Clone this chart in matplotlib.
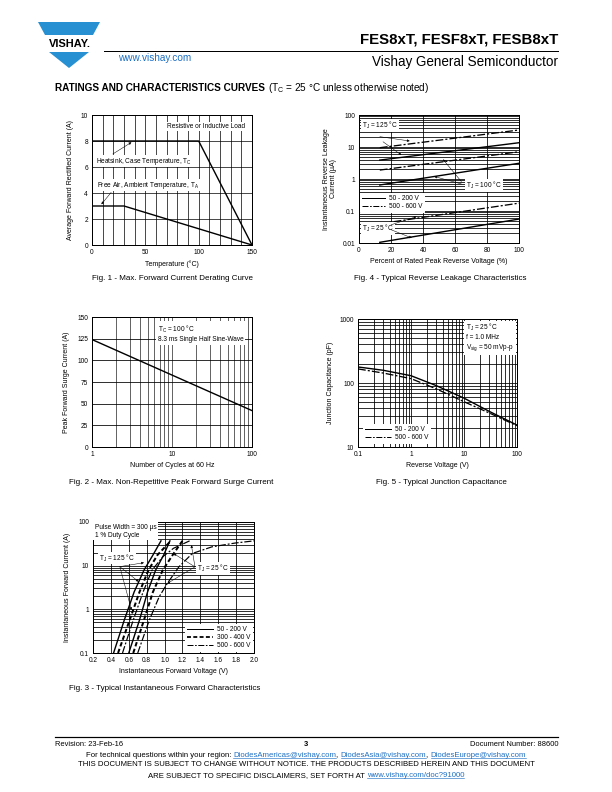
import matplotlib
matplotlib.use("Agg")
import matplotlib.pyplot as plt
from matplotlib.patches import Polygon
from matplotlib.lines import Line2D
from matplotlib.ticker import MultipleLocator, LogLocator, NullFormatter
from matplotlib.font_manager import FontProperties

plt.rcParams['font.family'] = ['Liberation Sans', 'DejaVu Sans']
plt.rcParams['mathtext.default'] = 'regular'

# ---- data ----
# Fig. 1 derating
temp_case = [0, 100, 150]
amps_case = [8, 8, 0]
temp_air = [0, 30, 150]
amps_air = [3, 3, 0]

# Fig. 2 surge current
cycles = [1, 100]
surge_amps = [124, 42]

# Fig. 3 forward characteristics (V, A)
vf_125_low = [0.43, 0.55, 0.66, 0.77, 0.87, 0.96]
if_125_low = [0.1, 0.57, 2.5, 7.9, 17.5, 37]
vf_125_mid = [0.48, 0.61, 0.72, 0.82, 0.92, 1.07]
if_125_mid = [0.1, 0.57, 2.5, 7.9, 17.5, 37]
vf_125_high = [0.53, 0.65, 0.76, 0.86, 0.98, 1.10, 1.28]
if_125_high = [0.1, 0.57, 2.5, 7.9, 16, 25, 37]
vf_25_low = [0.60, 0.72, 0.81, 0.90, 0.99, 1.06]
if_25_low = [0.1, 0.57, 2.5, 7.9, 17.5, 37]
vf_25_mid = [0.65, 0.77, 0.87, 0.98, 1.09, 1.20]
if_25_mid = [0.1, 0.57, 2.5, 7.9, 17.5, 37]
vf_25_high = [0.70, 0.83, 0.94, 1.03, 1.16, 1.31, 1.53, 1.79, 2.0]
if_25_high = [0.1, 0.57, 1.94, 3.9, 9.4, 19, 27, 33, 37]

# Fig. 4 reverse leakage (% of VRRM, uA)
pct = [13, 100]
ir_125_low = [3.9, 13.6]
ir_125_high = [9.5, 34]
ir_100_low = [0.65, 3.1]
ir_100_high = [1.9, 7.1]
ir_25_low = [0.0105, 0.056]
ir_25_high = [0.04, 0.176]

# Fig. 5 junction capacitance
vr = [0.1, 0.3, 1, 3, 10, 30, 100]
cj_low = [178, 158, 130, 91, 58, 36, 22]
cj_high = [166, 143, 117, 81, 51, 34, 21.5]

W, H = 612, 792
BLUE = '#2790d2'
LINK = '#1d6fc4'
DASHDOT = (0, (6, 1.6, 1.6, 1.6))
HEAVYDASH = (0, (2.2, 1.3))
TICK = 6.5
LAB = 7
ANN = 6.5
CAP = 8

fig = plt.figure(figsize=(W / 72, H / 72), dpi=72)


def fx(x):
    return x / W


def fy(y):
    return 1 - y / H


def axes_at(x0, x1, y0, y1):
    ax = fig.add_axes([fx(x0), fy(y1), (x1 - x0) / W, (y1 - y0) / H])
    ax.tick_params(which='both', length=0, labelsize=TICK, pad=4)
    for s in ax.spines.values():
        s.set_linewidth(1.0)
    ax.set_axisbelow(True)
    return ax


box_w = dict(facecolor='white', edgecolor='none', pad=0.8)
arrow = dict(arrowstyle='-|>', lw=0.5, color='black', mutation_scale=5, shrinkA=0, shrinkB=0)

# ---------------- Fig. 1 ----------------
ax1 = axes_at(92, 252, 115, 245)
ax1.plot(temp_case, amps_case, color='black', lw=1.4)
ax1.plot(temp_air, amps_air, color='black', lw=1.4)
ax1.set_xlim(0, 150)
ax1.set_ylim(0, 10)
ax1.set_xticks([0, 50, 100, 150])
ax1.xaxis.set_minor_locator(MultipleLocator(10))
ax1.set_yticks(range(0, 11, 2))
ax1.grid(True, which='both', axis='x', color='black', lw=0.7)
ax1.grid(True, which='major', axis='y', color='black', lw=0.7)
ax1.text(70, 9.1, 'Resistive or Inductive Load', fontsize=ANN, va='center', bbox=box_w)
ax1.text(3.5, 6.45, 'Heatsink, Case Temperature, T$_C$', fontsize=ANN, va='center', bbox=box_w)
ax1.text(4.5, 4.6, 'Free Air, Ambient Temperature, T$_A$', fontsize=ANN, va='center', bbox=box_w)
ax1.annotate('', xy=(37, 7.9), xytext=(19.5, 7.0), arrowprops=arrow)
ax1.annotate('', xy=(8.8, 3.13), xytext=(18, 4.05), arrowprops=arrow)
ax1.set_xlabel('Temperature (°C)', fontsize=LAB, labelpad=4)
ax1.set_ylabel('Average Forward Rectified Current (A)', fontsize=LAB, labelpad=7)

# ---------------- Fig. 4 ----------------
ax4 = axes_at(359, 519, 115, 243)
ax4.set_yscale('log')
ax4.plot(pct, ir_125_high, color='black', lw=1.3, ls=DASHDOT)
ax4.plot(pct, ir_125_low, color='black', lw=1.4)
ax4.plot(pct, ir_100_high, color='black', lw=1.3, ls=DASHDOT)
ax4.plot(pct, ir_100_low, color='black', lw=1.4)
ax4.plot(pct, ir_25_high, color='black', lw=1.3, ls=DASHDOT)
ax4.plot(pct, ir_25_low, color='black', lw=1.4)
ax4.set_xlim(0, 100)
ax4.set_ylim(0.01, 100)
ax4.set_xticks(range(0, 101, 20))
ax4.set_yticks([0.01, 0.1, 1, 10, 100])
ax4.set_yticklabels(['0.01', '0.1', '1', '10', '100'])
ax4.yaxis.set_minor_locator(LogLocator(base=10, subs=range(2, 10), numticks=20))
ax4.yaxis.set_minor_formatter(NullFormatter())
ax4.grid(True, which='major', axis='x', color='black', lw=0.8)
ax4.grid(True, which='both', axis='y', color='black', lw=0.8)
ax4.text(2, 48, 'T$_J$ = 125 °C', fontsize=ANN, va='center', bbox=box_w)
ax4.annotate('', xy=(31.7, 15.4), xytext=(13, 21), arrowprops=arrow)
ax4.annotate('', xy=(26.5, 5.6), xytext=(15, 14.6), arrowprops=arrow)
ax4.text(67, 0.61, 'T$_J$ = 100 °C', fontsize=ANN, va='center', bbox=box_w)
ax4.annotate('', xy=(52.5, 4.1), xytext=(64, 0.83), arrowprops=arrow)
ax4.annotate('', xy=(47, 1.2), xytext=(64, 0.7), arrowprops=arrow)
ax4.text(2, 0.029, 'T$_J$ = 25 °C', fontsize=ANN, va='center', bbox=box_w)
ax4.annotate('', xy=(36, 0.067), xytext=(20, 0.037), arrowprops=arrow)
ax4.annotate('', xy=(33, 0.0144), xytext=(20, 0.026), arrowprops=arrow)
h1 = Line2D([], [], color='black', lw=1.0)
h2 = Line2D([], [], color='black', lw=1.0, ls=DASHDOT)
ax4.legend([h1, h2], ['50 - 200 V', '500 - 600 V'], loc='upper left',
           bbox_to_anchor=(0.0, 0.4), fontsize=ANN, frameon=True, fancybox=False,
           framealpha=1, edgecolor='white', handlelength=3.5, handletextpad=0.6,
           borderpad=0.3, labelspacing=0.2, borderaxespad=0.2)
ax4.set_xlabel('Percent of Rated Peak Reverse Voltage (%)', fontsize=LAB, labelpad=4)
ax4.set_ylabel('Instantaneous Reverse Leakage\nCurrent (µA)', fontsize=LAB, labelpad=5,
               linespacing=1.1)

# ---------------- Fig. 2 ----------------
ax2 = axes_at(92, 252, 317, 447)
ax2.set_xscale('log')
ax2.plot(cycles, surge_amps, color='black', lw=1.4)
ax2.set_xlim(1, 100)
ax2.set_ylim(0, 150)
ax2.set_xticks([1, 10, 100])
ax2.set_xticklabels(['1', '10', '100'])
ax2.xaxis.set_minor_locator(LogLocator(base=10, subs=range(2, 10), numticks=20))
ax2.xaxis.set_minor_formatter(NullFormatter())
ax2.set_yticks(range(0, 151, 25))
ax2.grid(True, which='both', axis='x', color='black', lw=0.6)
ax2.grid(True, which='major', axis='y', color='black', lw=0.8)
ax2.text(0.41, 0.945, 'T$_C$ = 100 °C\n8.3 ms Single Half Sine-Wave', transform=ax2.transAxes,
         fontsize=ANN, va='top', linespacing=1.1,
         bbox=dict(facecolor='white', edgecolor='none', pad=2))
ax2.set_xlabel('Number of Cycles at 60 Hz', fontsize=LAB, labelpad=4)
ax2.set_ylabel('Peak Forward Surge Current (A)', fontsize=LAB, labelpad=7)

# ---------------- Fig. 5 ----------------
ax5 = axes_at(358, 517, 319, 447)
ax5.set_xscale('log')
ax5.set_yscale('log')
ax5.plot(vr, cj_low, color='black', lw=1.4)
ax5.plot(vr, cj_high, color='black', lw=1.3, ls=DASHDOT)
ax5.set_xlim(0.1, 100)
ax5.set_ylim(10, 1000)
ax5.set_xticks([0.1, 1, 10, 100])
ax5.set_xticklabels(['0.1', '1', '10', '100'])
ax5.set_yticks([10, 100, 1000])
ax5.set_yticklabels(['10', '100', '1000'])
for axis in (ax5.xaxis, ax5.yaxis):
    axis.set_minor_locator(LogLocator(base=10, subs=range(2, 10), numticks=20))
    axis.set_minor_formatter(NullFormatter())
ax5.grid(True, which='both', color='black', lw=0.8)
ax5.text(0.68, 0.975, 'T$_J$ = 25 °C\nf = 1.0 MHz\nV$_{sig}$ = 50 mVp-p', transform=ax5.transAxes,
         fontsize=ANN, va='top', linespacing=1.15,
         bbox=dict(facecolor='white', edgecolor='none', pad=2))
ax5.legend([h1, h2], ['50 - 200 V', '500 - 600 V'], loc='lower left',
           bbox_to_anchor=(0.03, 0.03), fontsize=ANN, frameon=True, fancybox=False,
           framealpha=1, edgecolor='white', handlelength=4, handletextpad=0.6,
           borderpad=0.3, labelspacing=0.2, borderaxespad=0.0)
ax5.set_xlabel('Reverse Voltage (V)', fontsize=LAB, labelpad=4)
ax5.set_ylabel('Junction Capacitance (pF)', fontsize=LAB, labelpad=6)

# ---------------- Fig. 3 ----------------
ax3 = axes_at(93, 254, 522, 653)
ax3.set_yscale('log')
ax3.plot(vf_125_low, if_125_low, color='black', lw=1.4)
ax3.plot(vf_125_mid, if_125_mid, color='black', lw=2.0, ls=HEAVYDASH)
ax3.plot(vf_125_high, if_125_high, color='black', lw=1.2, ls=DASHDOT)
ax3.plot(vf_25_low, if_25_low, color='black', lw=1.4)
ax3.plot(vf_25_mid, if_25_mid, color='black', lw=2.0, ls=HEAVYDASH)
ax3.plot(vf_25_high, if_25_high, color='black', lw=1.2, ls=DASHDOT)
ax3.set_xlim(0.2, 2.0)
ax3.set_ylim(0.1, 100)
ax3.set_xticks([0.2, 0.4, 0.6, 0.8, 1.0, 1.2, 1.4, 1.6, 1.8, 2.0])
ax3.set_xticklabels(['0.2', '0.4', '0.6', '0.8', '1.0', '1.2', '1.4', '1.6', '1.8', '2.0'])
ax3.set_yticks([0.1, 1, 10, 100])
ax3.set_yticklabels(['0.1', '1', '10', '100'])
ax3.yaxis.set_minor_locator(LogLocator(base=10, subs=range(2, 10), numticks=20))
ax3.yaxis.set_minor_formatter(NullFormatter())
ax3.grid(True, which='major', axis='x', color='black', lw=0.8)
ax3.grid(True, which='both', axis='y', color='black', lw=0.8)
ax3.text(0.012, 0.985, 'Pulse Width = 300 µs\n1 % Duty Cycle', transform=ax3.transAxes,
         fontsize=ANN, va='top', linespacing=1.2,
         bbox=dict(facecolor='white', edgecolor='none', pad=1.5))
ax3.text(0.27, 15, 'T$_J$ = 125 °C', fontsize=ANN, va='center', bbox=box_w)
ax3.annotate('', xy=(0.77, 11.7), xytext=(0.50, 9.5), arrowprops=arrow)
ax3.annotate('', xy=(0.71, 4.3), xytext=(0.50, 9.5), arrowprops=arrow)
ax3.annotate('', xy=(0.63, 0.96), xytext=(0.50, 9.5), arrowprops=arrow)
ax3.text(1.36, 8.7, 'T$_J$ = 25 °C', fontsize=ANN, va='center', bbox=box_w)
ax3.annotate('', xy=(1.10, 19), xytext=(1.34, 9.4), arrowprops=arrow)
ax3.annotate('', xy=(1.30, 29.5), xytext=(1.34, 9.4), arrowprops=arrow)
ax3.annotate('', xy=(1.03, 3.9), xytext=(1.34, 9.4), arrowprops=arrow)
h3 = Line2D([], [], color='black', lw=1.8, ls=HEAVYDASH)
ax3.legend([h1, h3, h2], ['50 - 200 V', '300 - 400 V', '500 - 600 V'], loc='lower right',
           bbox_to_anchor=(1.0, 0.0), fontsize=ANN, frameon=True, fancybox=False,
           framealpha=1, edgecolor='white', handlelength=4, handletextpad=0.5,
           borderpad=0.3, labelspacing=0.15, borderaxespad=0.3)
ax3.set_xlabel('Instantaneous Forward Voltage (V)', fontsize=LAB, labelpad=4)
ax3.set_ylabel('Instantaneous Forward Current (A)', fontsize=LAB, labelpad=7)

# ---------------- captions ----------------
cap = dict(fontsize=CAP, ha='center', va='center')
fig.text(fx(172), fy(278), 'Fig. 1 - Max. Forward Current Derating Curve', **cap)
fig.text(fx(440), fy(278), 'Fig. 4 - Typical Reverse Leakage Characteristics', **cap)
fig.text(fx(171), fy(483), 'Fig. 2 - Max. Non-Repetitive Peak Forward Surge Current', **cap)
fig.text(fx(441), fy(483), 'Fig. 5 - Typical Junction Capacitance', **cap)
fig.text(fx(165), fy(688), 'Fig. 3 - Typical Instantaneous Forward Characteristics', **cap)

# ---------------- header ----------------
fig.add_artist(Polygon([(fx(38), fy(22)), (fx(100), fy(22)), (fx(93), fy(35)), (fx(45), fy(35))],
                       closed=True, facecolor=BLUE, edgecolor='none'))
fig.add_artist(Polygon([(fx(49), fy(52)), (fx(89), fy(52)), (fx(69), fy(68))],
                       closed=True, facecolor=BLUE, edgecolor='none'))
fig.text(fx(69.5), fy(44), 'VISHAY.', fontsize=11, fontweight='bold', ha='center', va='center')
fig.text(fx(118), fy(58), 'www.vishay.com', fontsize=10, color=LINK, va='center')
fig.add_artist(Line2D([fx(104), fx(558)], [fy(51), fy(51)], color='black', lw=1.0))
fig.text(fx(558), fy(39.5), 'FES8xT, FESF8xT, FESB8xT', fontsize=15, fontweight='bold',
         ha='right', va='center')
fig.text(fx(558), fy(62), 'Vishay General Semiconductor', fontsize=13.5, ha='right', va='center')

renderer = fig.canvas.get_renderer()
t_bold = fig.text(fx(55), fy(88), 'RATINGS AND CHARACTERISTICS CURVES', fontsize=10,
                  fontweight='heavy', va='center')
bb = t_bold.get_window_extent(renderer)
fig.text((bb.x1 + 3) / W, fy(88), '(T$_C$ = 25 °C unless otherwise noted)', fontsize=10,
         va='center')

# ---------------- footer ----------------
FOOT = 7.8
fig.add_artist(Line2D([fx(55), fx(558)], [fy(737), fy(737)], color='black', lw=1.2))
fig.text(fx(55), fy(744), 'Revision: 23-Feb-16', fontsize=7.5, va='center')
fig.text(fx(306), fy(745), '3', fontsize=7.5, fontweight='bold', ha='center', va='center')
fig.text(fx(558), fy(744), 'Document Number: 88600', fontsize=7.5, ha='right', va='center')

prop = FontProperties(family=['Liberation Sans'], size=FOOT)


def width(s):
    return renderer.get_text_width_height_descent(s, prop, ismath=False)[0]


def text_row(parts, xc, y):
    full = ''.join(p[0] for p in parts)
    x0 = xc - width(full) / 2
    pre = ''
    for s, color, link in parts:
        off = (width(pre + '|') - width('|')) if pre else 0
        fig.text(fx(x0 + off), fy(y), s, fontsize=FOOT, color=color, va='baseline')
        if link:
            fig.add_artist(Line2D([fx(x0 + off), fx(x0 + off + width(s))],
                                  [fy(y + 1.4), fy(y + 1.4)], color=color, lw=0.6))
        pre += s


text_row([('For technical questions within your region: ', 'black', False),
          ('DiodesAmericas@vishay.com', LINK, True), (', ', 'black', False),
          ('DiodesAsia@vishay.com', LINK, True), (', ', 'black', False),
          ('DiodesEurope@vishay.com', LINK, True)], 306, 757)
fig.text(fx(306), fy(765), 'THIS DOCUMENT IS SUBJECT TO CHANGE WITHOUT NOTICE. THE PRODUCTS '
         'DESCRIBED HEREIN AND THIS DOCUMENT', fontsize=FOOT, ha='center', va='center')
text_row([('ARE SUBJECT TO SPECIFIC DISCLAIMERS, SET FORTH AT ', 'black', False),
          ('www.vishay.com/doc?91000', LINK, True)], 306, 777)

fig.savefig('out.png', dpi=72, facecolor='white')
